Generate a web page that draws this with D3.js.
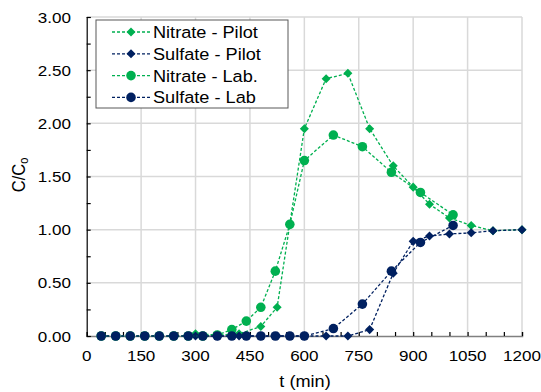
<!DOCTYPE html>
<html>
<head>
<meta charset="utf-8">
<script src="https://cdn.jsdelivr.net/npm/d3@7"></script>
<style>
  body { margin: 0; background: #fff; }
  text { font-family: Arial, "Liberation Sans", sans-serif; fill: #000; }
</style>
</head>
<body>
<div id="chart"></div>
<script>
// time points (min)
const pilotTimes = [300, 360, 420, 480, 525, 600, 660, 720, 780, 845, 900, 945, 1000, 1060, 1120, 1200];
const labTimes = [40, 80, 120, 160, 200, 240, 280, 320, 360, 400, 440, 480, 520, 560, 600, 680, 760, 840, 920, 1010];

// C/Co values
const nitratePilot = [0.02, 0.01, 0.02, 0.09, 0.27, 1.95, 2.42, 2.47, 1.95, 1.60, 1.40, 1.24, 1.11, 1.04, 0.99, 1.00];
const sulfatePilot = [0, 0, 0, 0, 0, 0, 0, 0, 0.06, 0.59, 0.89, 0.94, 0.96, 0.97, 0.99, 1.00];
const nitrateLab = [0, 0, 0, 0, 0, 0, 0, 0, 0.01, 0.06, 0.14, 0.27, 0.61, 1.05, 1.65, 1.89, 1.78, 1.54, 1.35, 1.14];
const sulfateLab = [0, 0, 0, 0, 0, 0, 0, 0, 0, 0, 0, 0, 0, 0, 0, 0.07, 0.30, 0.61, 0.88, 1.04];

const xTicks = [0, 150, 300, 450, 600, 750, 900, 1050, 1200];
const yTicks = [0, 0.5, 1.0, 1.5, 2.0, 2.5, 3.0];

const green = '#00b050', navy = '#002060';

const series = [
  {name: 'Nitrate - Pilot', t: pilotTimes, v: nitratePilot, color: green, shape: 'diamond'},
  {name: 'Sulfate - Pilot', t: pilotTimes, v: sulfatePilot, color: navy, shape: 'diamond'},
  {name: 'Nitrate - Lab.', t: labTimes, v: nitrateLab, color: green, shape: 'circle'},
  {name: 'Sulfate - Lab', t: labTimes, v: sulfateLab, color: navy, shape: 'circle'}
];

const width = 541, height = 392;
const stretch = 1.1; // text in the picture is a bit wider than plain Arial

const svg = d3.select('#chart').append('svg')
  .attr('width', width).attr('height', height);

const x = d3.scaleLinear().domain([0, 1200]).range([86.7, 522]);
const y = d3.scaleLinear().domain([0, 3]).range([336, 17]);

// gridlines
svg.append('g').selectAll('line').data(xTicks.slice(1)).enter().append('line')
  .attr('x1', d => x(d)).attr('x2', d => x(d))
  .attr('y1', y(0)).attr('y2', y(3))
  .attr('stroke', '#d9d9d9').attr('stroke-width', 1.5);
svg.append('g').selectAll('line').data(yTicks.slice(1)).enter().append('line')
  .attr('x1', x(0)).attr('x2', x(1200))
  .attr('y1', d => y(d)).attr('y2', d => y(d))
  .attr('stroke', '#d9d9d9').attr('stroke-width', 1.5);

// x axis
const xAxis = svg.append('g').attr('transform', `translate(0,${y(0)})`)
  .call(d3.axisBottom(x).tickValues(d3.range(0, 1201, 50)).tickSize(-4).tickFormat(''));
xAxis.select('.domain').attr('stroke', '#808080').attr('stroke-width', 1.5);
xAxis.selectAll('.tick line').attr('stroke', '#000').attr('stroke-width', 1.2);
svg.append('g').selectAll('text').data(xTicks).enter().append('text')
  .attr('transform', d => `translate(${x(d)},361) scale(${stretch},1)`)
  .attr('text-anchor', 'middle').style('font-size', '15.5px')
  .text(d => d);

// y axis
const yAxis = svg.append('g').attr('transform', `translate(${x(0)},0)`)
  .call(d3.axisLeft(y).tickValues(d3.range(0, 3.01, 0.25)).tickSize(-4).tickFormat(''));
yAxis.select('.domain').attr('stroke', '#000').attr('stroke-width', 1.2);
yAxis.selectAll('.tick line').attr('stroke', '#000').attr('stroke-width', 1.2);
svg.append('g').selectAll('text').data(yTicks).enter().append('text')
  .attr('transform', d => `translate(71,${y(d) + 5.5}) scale(${stretch},1)`)
  .attr('text-anchor', 'end').style('font-size', '15.5px')
  .text(d => d.toFixed(2));

// axis titles
svg.append('text').attr('transform', `translate(305,387) scale(${stretch},1)`)
  .attr('text-anchor', 'middle').style('font-size', '16.5px').text('t (min)');
const yTitle = svg.append('text')
  .attr('transform', `translate(25,175) rotate(-90) scale(1,${stretch})`)
  .attr('text-anchor', 'middle').style('font-size', '16.5px');
yTitle.append('tspan').text('C/C');
yTitle.append('tspan').attr('dy', 3).style('font-size', '11px').text('o');

const diamond = d3.symbol().type(d3.symbolDiamond2).size(52);
const circle = d3.symbol().type(d3.symbolCircle).size(72);

function drawMarker(g, shape, color) {
  return g.append('path')
    .attr('d', shape === 'diamond' ? diamond() : circle())
    .attr('fill', color);
}

const line = d3.line().x(d => x(d[0])).y(d => y(d[1]));

series.forEach(s => {
  const pts = s.t.map((t, i) => [t, s.v[i]]);
  const g = svg.append('g');
  g.append('path').datum(pts)
    .attr('d', line)
    .attr('fill', 'none')
    .attr('stroke', s.color)
    .attr('stroke-width', 1.3)
    .attr('stroke-dasharray', '3,2');
  g.selectAll('g').data(pts).enter().append('g')
    .attr('transform', d => `translate(${x(d[0])},${y(d[1])})`)
    .each(function () { drawMarker(d3.select(this), s.shape, s.color); });
});

// legend
const legend = svg.append('g');
legend.append('rect')
  .attr('x', 96).attr('y', 20).attr('width', 192).attr('height', 88)
  .attr('fill', '#fff').attr('stroke', '#595959').attr('stroke-width', 1);
series.forEach((s, i) => {
  const ly = 32 + i * 21.8;
  legend.append('line')
    .attr('x1', 112).attr('x2', 150).attr('y1', ly).attr('y2', ly)
    .attr('stroke', s.color).attr('stroke-width', 1.3).attr('stroke-dasharray', '3,2');
  const m = legend.append('g').attr('transform', `translate(131,${ly})`);
  drawMarker(m, s.shape, s.color);
  legend.append('text')
    .attr('transform', `translate(153,${ly + 6}) scale(${stretch},1)`)
    .style('font-size', '16.5px')
    .text(s.name);
});
</script>
</body>
</html>
